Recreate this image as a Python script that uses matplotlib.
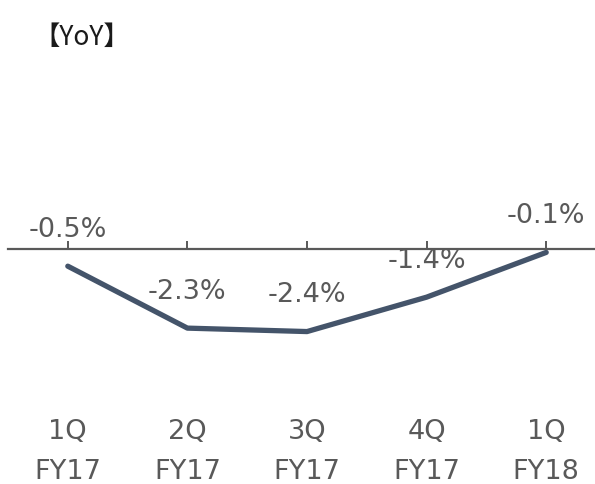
import matplotlib
matplotlib.use('Agg')
import matplotlib.pyplot as plt

# quarterly YoY change (%)
quarters = ['1Q\nFY17', '2Q\nFY17', '3Q\nFY17', '4Q\nFY17', '1Q\nFY18']
yoy = [-0.5, -2.3, -2.4, -1.4, -0.1]
labels = ['-0.5%', '-2.3%', '-2.4%', '-1.4%', '-0.1%']

plt.rcParams['font.family'] = ['DejaVu Sans']
grey = '#595959'

fig = plt.figure(figsize=(5.95, 4.85), dpi=100)
ax = fig.add_axes([8/595, 75/485, 598/595, 350/485])

x = list(range(len(yoy)))
ax.plot(x, yoy, color='#44546A', lw=3.8, solid_capstyle='round', solid_joinstyle='round')

for a, b, t in zip(x, yoy, labels):
    ax.annotate(t, (a, b), xytext=(0, 27), textcoords='offset points',
                ha='center', va='center', fontsize=19.5, color=grey)

ax.set_xlim(-0.5, 4.5)
ax.set_ylim(-4.65, 5.52)

for s in ['top', 'right', 'left']:
    ax.spines[s].set_visible(False)
ax.spines['bottom'].set_position(('data', 0))
ax.spines['bottom'].set_color(grey)
ax.spines['bottom'].set_linewidth(1.6)

ax.set_xticks(x)
ax.set_xticklabels(quarters, fontsize=19.5, color=grey, linespacing=1.7)
ax.tick_params(axis='x', direction='in', length=5.5, width=1.4, color=grey, pad=122)
ax.set_yticks([])

fig.text(33/595, 1 - 37/485, '【YoY】', fontsize=19, color='#1a1a1a', va='center', ha='left',
         family=['Noto Sans CJK JP', 'DejaVu Sans'])

fig.savefig('out.png', dpi=100)
